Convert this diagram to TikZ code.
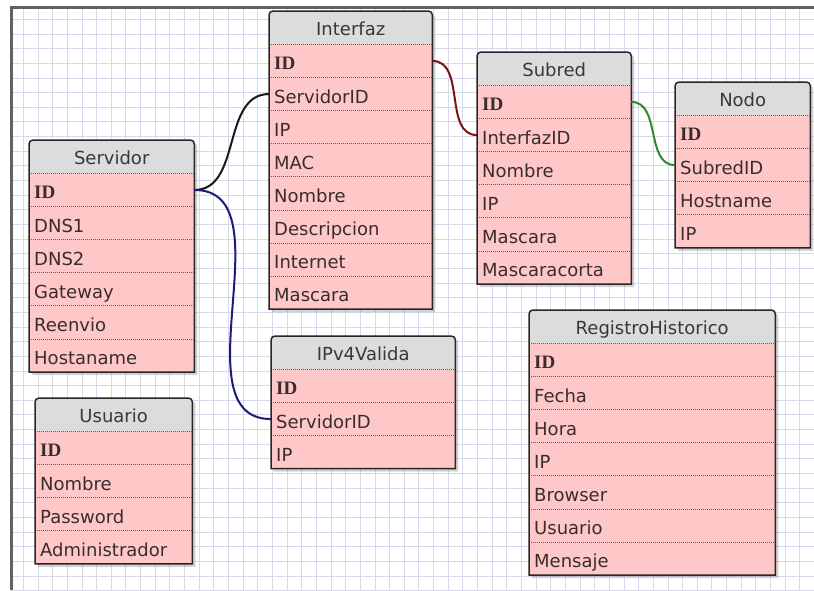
\documentclass[tikz,border=0pt]{standalone}
\usepackage{fontspec}
\setmainfont{DejaVu Sans}
\newfontfamily\keyfont{Liberation Serif}
\usetikzlibrary{shadows}

\pgfdeclarelayer{gridlayer}
\pgfdeclarelayer{boxlayer}
\pgfsetlayers{gridlayer,boxlayer,main}

\definecolor{rowpink}{HTML}{FFC8C8}
\definecolor{headgray}{HTML}{DCDCDC}
\definecolor{gridblue}{HTML}{D8D8EC}
\definecolor{inkdark}{HTML}{3A2C2C}
\definecolor{linkred}{HTML}{7A1414}
\definecolor{linkgreen}{HTML}{2E8B2E}
\definecolor{linkblue}{HTML}{1C1C78}

\newcommand{\pk}{{\keyfont\bfseries\fontsize{19}{21}\selectfont ID}}

% one table: name, corner, width, title, fields
\newcommand{\dbtable}[5]{%
  \pgfmathsetmacro\tabtw{#3-10}
  \node[tabhead, minimum width=#3pt, anchor=north west, alias=#1-0] (#1) at #2 {#4};
  \foreach \fld [count=\i, remember=\i as \prev (initially 0)] in {#5} {
    \node[tabrow, text width=\tabtw pt, anchor=north west] (#1-\i) at (#1-\prev.south west) {\fld};
    \draw[rowsep] (#1-\i.north west) -- (#1-\i.north east);
    \xdef\lastrow{\i}
  }
  \begin{pgfonlayer}{boxlayer}
    \fill[rowpink, drop shadow={shadow xshift=3pt, shadow yshift=-3pt, opacity=.35}]
      (#1-\lastrow.south west) [rounded corners=4pt] -- (#1.north west) -- (#1.north east)
      [sharp corners] -- (#1-\lastrow.south east) -- cycle;
    \fill[headgray] (#1.south west) [rounded corners=4pt] -- (#1.north west) -- (#1.north east)
      [sharp corners] -- (#1.south east) -- cycle;
  \end{pgfonlayer}
  \draw[tabframe] (#1-\lastrow.south west) [rounded corners=4pt] -- (#1.north west) -- (#1.north east)
    [sharp corners] -- (#1-\lastrow.south east) -- cycle;
}

\begin{document}
\begin{tikzpicture}[x=1pt, y=-1pt,
  tabhead/.style={inner sep=0pt, minimum height=33pt, text height=15pt, text depth=0pt,
    text=black!78, font=\fontsize{18}{20}\selectfont},
  tabrow/.style={inner xsep=5pt, inner ysep=0pt, minimum height=32.7pt, text height=18pt,
    text depth=0pt, align=left, text=inkdark, font=\fontsize{18}{20}\selectfont},
  rowsep/.style={draw=black!45!red!40!gray, line width=.8pt, dash pattern=on .8pt off 1.2pt},
  tabframe/.style={draw=black!85, line width=1.5pt},
  gridline/.style={draw=gridblue, line width=.8pt},
  link/.style={line width=2pt}]
\useasboundingbox (0,0) rectangle (814,590);

% background grid and frame
\begin{pgfonlayer}{gridlayer}
\foreach \gx in {1,...,55} \draw[gridline] ({8.65+\gx*14.65},7) -- ({8.65+\gx*14.65},590);
\foreach \gy in {0,...,39} \draw[gridline] (11,{19.3+\gy*14.65}) -- (814,{19.3+\gy*14.65});
\draw[line width=3pt, black!62] (11,590) -- (11,7) -- (814,7);
\end{pgfonlayer}

\dbtable{servidor}{(29,140)}{165}{Servidor}{\pk,DNS1,DNS2,Gateway,Reenvio,Hostaname}
\dbtable{interfaz}{(269,11)}{163}{Interfaz}{\pk,ServidorID,IP,MAC,Nombre,Descripcion,Internet,Mascara}
\dbtable{subred}{(477,52)}{154}{Subred}{\pk,InterfazID,Nombre,IP,Mascara,Mascaracorta}
\dbtable{nodo}{(675,82)}{135}{Nodo}{\pk,SubredID,Hostname,IP}
\dbtable{ipv4}{(271,336)}{184}{IPv4Valida}{\pk,ServidorID,IP}
\dbtable{usuario}{(35,398)}{157}{Usuario}{\pk,Nombre,Password,Administrador}
\dbtable{registro}{(529,310)}{246}{RegistroHistorico}{\pk,Fecha,Hora,IP,Browser,Usuario,Mensaje}

% relations
\draw[link, black!90] (servidor-1.east) to[out=0, in=180] (interfaz-2.west);
\draw[link, linkblue] (servidor-1.east) to[out=0, in=180] (ipv4-2.west);
\draw[link, linkred] (interfaz-1.east) to[out=0, in=180] (subred-2.west);
\draw[link, linkgreen] (subred-1.east) to[out=0, in=180] (nodo-2.west);
\end{tikzpicture}
\end{document}
